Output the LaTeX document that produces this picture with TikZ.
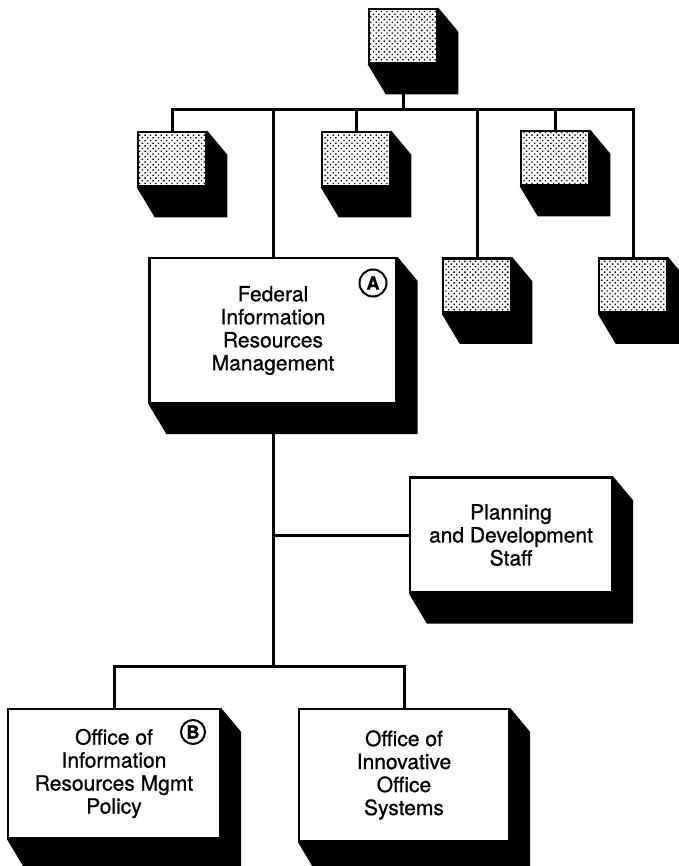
\documentclass[tikz,border=0pt]{standalone}
\usepackage{fontspec}
\setmainfont{TeX Gyre Heros}[FakeBold=0.9]
\usetikzlibrary{patterns.meta}
\pgfdeclarelayer{lines}
\pgfdeclarelayer{shadows}
\pgfsetlayers{lines,shadows,main}
\newcommand\myshadow[1]{\fill (#1.north east) -- ++(20,24) -- ([shift={(20,30)}]#1.south east) -- ([shift={(18,30)}]#1.south west) -- (#1.south west) -- cycle;}
\tikzset{
  orgbox/.style={draw, line width=2.2pt, fill=white, rectangle, inner sep=0pt, align=center,
    font=\fontsize{21}{23}\selectfont},
  minibox/.style={draw, line width=2.6pt, rectangle, minimum width=68pt, minimum height=54pt,
    inner sep=0pt, preaction={fill=white}, pattern={Dots[distance=3.8pt,angle=45,radius=0.95pt]}},
  conn/.style={line width=3pt, line join=miter},
  circmark/.style={circle, draw, line width=2pt, inner sep=0pt, fill=white,
    font=\fontsize{18}{18}\selectfont\bfseries}
}
\begin{document}
\begin{tikzpicture}[x=1pt,y=-1pt]
\useasboundingbox (0,0) rectangle (678,866);
% boxes
\node[minibox] (top) at (403,36) {};
\node[minibox] (b1) at (172,159) {};
\node[minibox] (b2) at (356,159) {};
\node[minibox] (b3) at (555,158) {};
\node[minibox] (b4) at (477,285.5) {};
\node[minibox] (b5) at (633,285.5) {};
\node[orgbox, minimum width=247pt, minimum height=145pt] (fed) at (273,330.5)
  {Federal\\Information\\Resources\\Management};
\node[orgbox, minimum width=202pt, minimum height=115pt] (pl) at (511,535)
  {Planning\\and Development\\Staff};
\node[orgbox, minimum width=212pt, minimum height=129pt] (ob) at (114,773.5)
  {Office of\\Information\\Resources Mgmt\\Policy};
\node[orgbox, minimum width=210pt, minimum height=132pt] (oi) at (404,775)
  {Office of\\Innovative\\Office\\Systems};
\node[circmark, minimum size=27pt] (ca) at (373,283) {A};
\node[circmark, minimum size=24pt] (cb) at (193,732) {B};
% shadows
\begin{pgfonlayer}{shadows}
\foreach \n in {top,b1,b2,b3,b4,b5,fed,pl,ob,oi} {\myshadow{\n}}
\end{pgfonlayer}
% connectors
\coordinate (bus) at (403,110);
\coordinate (bus2) at (273,666);
\begin{pgfonlayer}{lines}
\draw[conn] (b1.center) |- (bus) -| (b5.center);
\draw[conn] (top.center) -- (bus);
\draw[conn] (fed.center) -- (fed |- bus);
\draw[conn] (b2.center) -- (b2 |- bus);
\draw[conn] (b4.center) -- (b4 |- bus);
\draw[conn] (b3.center) -- (b3 |- bus);
\draw[conn] (fed.center) -- (bus2);
\draw[conn] (fed |- pl.west) -- (pl.west);
\draw[conn] (ob.center) |- (bus2) -| (oi.center);
\end{pgfonlayer}
\end{tikzpicture}
\end{document}
